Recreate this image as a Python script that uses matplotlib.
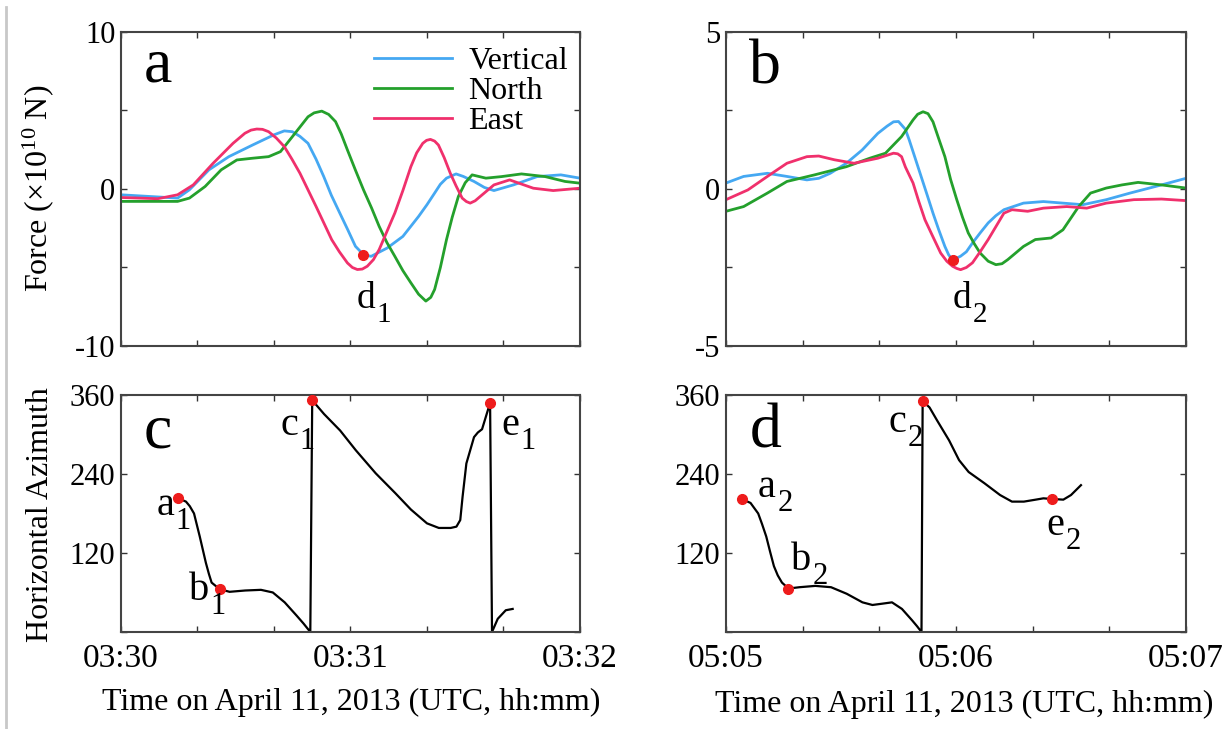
import matplotlib
matplotlib.use("Agg")
import matplotlib.pyplot as plt
from matplotlib.lines import Line2D

plt.rcParams["font.family"] = ["Liberation Serif", "DejaVu Serif"]
plt.rcParams["mathtext.default"] = "regular"

BLUE  = "#45a8f2"
GREEN = "#24a02c"
PINK  = "#f0306c"
DOT   = "#ee1c1c"

# ---- panel a : 03:30 -> 03:32 (seconds since 03:30), force x1e10 N
a_t_vert = [0, 14.8, 17.9, 23.0, 28.2, 34.4, 40.0, 42.7, 44.8, 46.8, 48.9, 51.0,
            53.0, 55.0, 57.2, 59.3, 61.3, 63.4, 65.4, 69.6, 73.7, 77.8, 80.0,
            82.0, 83.5, 85.1, 87.6, 89.5, 92.3, 95.0, 97.5, 102.6, 108.8, 115.0,
            120]
a_vert   = [-0.37, -0.58, -0.05, 1.22, 2.06, 2.80, 3.45, 3.70, 3.65, 3.35, 2.91,
            1.90, 0.80, -0.40, -1.53, -2.60, -3.65, -4.18, -4.29, -3.76, -3.02,
            -1.75, -1.00, -0.26, 0.30, 0.69, 0.96, 0.80, 0.48, 0.10, -0.10, 0.26,
            0.79, 0.90, 0.69]
a_t_north = [0, 14.8, 17.9, 22.0, 26.2, 30.3, 34.4, 38.6, 41.7, 44.8, 48.9, 50.5,
             52.5, 54.3, 56.1, 57.6, 59.2, 61.3, 63.4, 65.5, 67.5, 69.5, 71.6,
             73.7, 75.8, 77.8, 79.7, 81.0, 82.0, 83.5, 85.1, 86.6, 88.2, 90.0,
             91.8, 95.4, 99.5, 104.7, 110.9, 116.1, 120]
a_north   = [-0.79, -0.79, -0.58, 0.16, 1.22, 1.85, 1.96, 2.06, 2.38, 3.33, 4.60,
             4.85, 4.96, 4.75, 4.29, 3.50, 2.49, 1.20, -0.05, -1.20, -2.38, -3.40,
             -4.29, -5.20, -5.98, -6.70, -7.14, -6.90, -6.40, -5.00, -3.23, -1.80,
             -0.48, 0.40, 0.90, 0.69, 0.79, 0.96, 0.79, 0.48, 0.37]
a_t_east = [0, 9.6, 14.8, 18.9, 24.1, 29.3, 32.4, 34.0, 35.5, 37.0, 38.6, 40.6,
            42.7, 44.7, 46.8, 51.0, 55.1, 57.1, 59.2, 60.5, 61.8, 63.1, 64.4,
            66.0, 67.5, 71.6, 73.7, 75.8, 77.3, 78.9, 79.9, 80.9, 82.0, 83.0,
            84.5, 86.1, 87.6, 89.2, 90.3, 91.3, 92.6, 93.9, 97.5, 101.6, 107.8,
            113.0, 120]
a_east   = [-0.54, -0.62, -0.37, 0.26, 1.64, 2.91, 3.55, 3.75, 3.82, 3.80, 3.65,
            3.25, 2.70, 1.90, 1.00, -1.11, -3.23, -4.00, -4.71, -5.00, -5.13,
            -5.10, -4.92, -4.50, -3.86, -1.53, -0.10, 1.43, 2.30, 2.91, 3.10,
            3.16, 3.05, 2.80, 2.00, 1.00, 0.20, -0.58, -0.80, -0.90, -0.75, -0.48,
            0.26, 0.58, 0.05, -0.10, 0.05]

# ---- panel b : 05:05 -> 05:07
b_t_vert = [0, 4.6, 10.8, 15.9, 21.1, 24.2, 27.2, 31.4, 35.5, 39.6, 42.0, 43.7,
            45.0, 46.8, 47.8, 49.3, 50.9, 52.5, 54.0, 55.5, 57.1, 58.1, 59.1,
            60.2, 61.2, 62.7, 64.3, 66.3, 68.4, 70.4, 72.5, 77.6, 82.8, 87.9,
            93.1, 99.2, 105.4, 113.6, 120]
b_vert   = [0.19, 0.40, 0.50, 0.40, 0.29, 0.34, 0.50, 0.82, 1.24, 1.77, 2.00,
            2.14, 2.15, 1.90, 1.56, 1.00, 0.40, -0.20, -0.77, -1.30, -1.83,
            -2.10, -2.25, -2.20, -2.14, -2.00, -1.72, -1.40, -1.08, -0.85, -0.66,
            -0.45, -0.40, -0.45, -0.50, -0.34, -0.13, 0.13, 0.34]
b_t_north = [0, 4.6, 10.8, 15.9, 23.1, 31.4, 37.5, 41.6, 45.8, 48.8, 50.0, 51.4,
             52.7, 54.0, 55.5, 57.1, 58.6, 60.2, 61.7, 63.2, 64.8, 66.3, 68.4,
             70.4, 72.0, 73.5, 77.6, 80.7, 84.8, 87.9, 92.0, 95.1, 99.2, 103.3,
             107.5, 113.6, 120]
b_north   = [-0.71, -0.56, -0.13, 0.24, 0.45, 0.71, 0.98, 1.14, 1.67, 2.20, 2.38,
             2.46, 2.40, 2.14, 1.60, 1.03, 0.30, -0.34, -0.90, -1.40, -1.75,
             -2.04, -2.30, -2.41, -2.38, -2.25, -1.83, -1.61, -1.56, -1.30, -0.56,
             -0.13, 0.03, 0.13, 0.21, 0.13, 0.03]
b_t_east = [0, 5.7, 10.8, 15.9, 21.1, 24.2, 28.3, 33.4, 39.6, 43.7, 44.8, 45.8,
            46.8, 48.8, 50.3, 51.9, 53.9, 56.0, 57.6, 59.1, 60.2, 61.2, 62.7,
            64.3, 66.3, 68.4, 70.4, 72.5, 74.6, 78.7, 82.8, 88.9, 94.1, 99.2,
            106.4, 113.6, 120]
b_east   = [-0.34, -0.03, 0.40, 0.82, 1.03, 1.05, 0.93, 0.82, 0.98, 1.14, 1.12,
            1.03, 0.70, 0.19, -0.40, -0.98, -1.50, -2.04, -2.30, -2.46, -2.53,
            -2.57, -2.50, -2.35, -2.00, -1.61, -1.20, -0.77, -0.66, -0.71, -0.61,
            -0.56, -0.61, -0.45, -0.34, -0.32, -0.37]

# ---- panel c : horizontal azimuth (deg)
c_t   = [15.0, 17.0, 18.0, 19.1, 20.6, 21.4, 22.2, 23.0, 23.7, 25.8, 28.4, 32.5,
         36.6, 39.7, 42.8, 45.9, 47.7, 49.5, 50.0, 53.1, 57.3, 61.4, 66.6, 71.7,
         75.8, 80.0, 83.1, 86.2, 87.7, 88.7, 89.3, 90.3, 92.3, 93.3, 94.4, 96.5,
         97.0, 98.5, 100.6, 102.4]
c_azi = [203, 198, 191, 180, 145, 125, 105, 88, 75, 65, 61, 63, 64, 60, 45, 25,
         13, 0, 352, 331, 306, 276, 241, 211, 186, 165, 158, 158, 160, 170, 205,
         256, 296, 303, 308, 348, 0, 20, 33, 35]
c_dot_t   = [15.0, 25.8, 50.0, 96.5]
c_dot_azi = [203, 65, 352, 348]

# ---- panel d
d_t   = [4.1, 6.4, 8.4, 9.4, 10.5, 11.5, 12.5, 13.5, 14.6, 16.3, 19.2, 23.3, 27.4,
         31.5, 35.6, 38.2, 40.8, 43.3, 45.9, 48.5, 49.8, 51.0, 51.3, 53.1, 55.1,
         58.2, 60.8, 63.3, 67.4, 71.5, 74.6, 77.7, 80.8, 82.8, 85.1, 88.0, 90.0,
         92.6]
d_azi = [202, 196, 180, 164, 145, 122, 100, 86, 75, 66, 68, 70, 68, 58, 45, 41,
         43, 45, 35, 18, 9, 0, 351, 341, 321, 291, 261, 243, 226, 208, 198, 198,
         201, 203, 202, 201, 208, 223]
d_dot_t   = [4.1, 16.3, 51.3, 85.1]
d_dot_azi = [202, 66, 351, 202]

x_ticks = [0, 20, 40, 60, 80, 100, 120]
c_xlabels = ["03:30", "", "", "03:31", "", "", "03:32"]
d_xlabels = ["05:05", "", "", "05:06", "", "", "05:07"]
azi_ticks = [0, 120, 240, 360]
azi_labels = ["", "120", "240", "360"]


def style(ax, yticks, ylabels, xlabels=None):
    ax.set_xlim(0, 120)
    ax.set_xticks(x_ticks)
    ax.set_xticklabels(xlabels if xlabels else [""] * len(x_ticks))
    ax.set_yticks(yticks)
    ax.set_yticklabels(ylabels)
    ax.set_ylim(yticks[0], yticks[-1])
    ax.tick_params(direction="in", top=True, right=True, length=4, width=1,
                   color="#333333", pad=4)
    ax.tick_params(axis="y", labelsize=22)
    ax.tick_params(axis="x", labelsize=24, pad=8)
    for s in ax.spines.values():
        s.set_color("#444444")
        s.set_linewidth(1.5)


def tag(ax, x, y, letter, sub, size, subsize):
    ax.text(x, y, letter, fontsize=size, ha="right", va="baseline")
    ax.annotate(sub, (x, y), xytext=(1, -10), textcoords="offset points",
                fontsize=subsize, ha="left", va="baseline")


fig = plt.figure(figsize=(12.28, 7.29), dpi=100)
ax_a = fig.add_axes([0.0985, 0.5254, 0.3738, 0.4307])
ax_b = fig.add_axes([0.5912, 0.5254, 0.3746, 0.4307])
ax_c = fig.add_axes([0.0985, 0.1331, 0.3738, 0.3251])
ax_d = fig.add_axes([0.5912, 0.1331, 0.3746, 0.3251])

# a
ax_a.plot(a_t_vert, a_vert, color=BLUE, lw=2, label="Vertical")
ax_a.plot(a_t_north, a_north, color=GREEN, lw=2, label="North")
ax_a.plot(a_t_east, a_east, color=PINK, lw=2, label="East")
ax_a.plot(a_t_vert[17], a_vert[17], "o", color=DOT, ms=7)
style(ax_a, [-10, -5, 0, 5, 10], ["-10", "", "0", "", "10"])
ax_a.legend(loc="upper left", bbox_to_anchor=(0.52, 1.0), frameon=False,
            fontsize=23, handlelength=2.45, handletextpad=0.5, labelspacing=0.02,
            borderaxespad=0.05)
ax_a.text(0.08, 0.89, "a", transform=ax_a.transAxes, fontsize=46,
          ha="center", va="center")
tag(ax_a, 66.4, -7.6, "d", "1", 27, 21)

# b
ax_b.plot(b_t_vert, b_vert, color=BLUE, lw=2)
ax_b.plot(b_t_north, b_north, color=GREEN, lw=2)
ax_b.plot(b_t_east, b_east, color=PINK, lw=2)
ax_b.plot(b_t_vert[22], b_vert[22], "o", color=DOT, ms=7)
style(ax_b, [-5, -2.5, 0, 2.5, 5], ["-5", "", "0", "", "5"])
ax_b.text(0.085, 0.885, "b", transform=ax_b.transAxes, fontsize=46,
          ha="center", va="center")
tag(ax_b, 63.9, -3.8, "d", "2", 27, 21)

# c
ax_c.plot(c_t, c_azi, color="black", lw=1.6)
ax_c.plot(c_dot_t, c_dot_azi, "o", color=DOT, ms=7, zorder=3)
style(ax_c, azi_ticks, azi_labels, c_xlabels)
ax_c.text(0.08, 0.84, "c", transform=ax_c.transAxes, fontsize=46,
          ha="center", va="center")
tag(ax_c, 13.9, 178, "a", "1", 29, 22)
tag(ax_c, 23.0, 49, "b", "1", 29, 22)
tag(ax_c, 46.3, 299, "c", "1", 29, 22)
tag(ax_c, 104.0, 299, "e", "1", 29, 22)

# d
ax_d.plot(d_t, d_azi, color="black", lw=1.6)
ax_d.plot(d_dot_t, d_dot_azi, "o", color=DOT, ms=7, zorder=3)
style(ax_d, azi_ticks, azi_labels, d_xlabels)
ax_d.text(0.087, 0.84, "d", transform=ax_d.transAxes, fontsize=46,
          ha="center", va="center")
tag(ax_d, 13.0, 205, "a", "2", 29, 22)
tag(ax_d, 22.2, 94, "b", "2", 29, 22)
tag(ax_d, 47.0, 304, "c", "2", 29, 22)
tag(ax_d, 88.2, 147, "e", "2", 29, 22)

fig.text(0.031, 0.741, "Force (\u00d710$^{10}$ N)", rotation=90, fontsize=23,
         ha="center", va="center")
fig.text(0.033, 0.294, "Horizontal Azimuth", rotation=90, fontsize=23,
         ha="center", va="center")
fig.text(0.286, 0.036, "Time on April 11, 2013 (UTC, hh:mm)", fontsize=23,
         ha="center", va="center")
fig.text(0.785, 0.033, "Time on April 11, 2013 (UTC, hh:mm)", fontsize=23,
         ha="center", va="center")

# thin grey border on the left edge
fig.add_artist(Line2D([0.005, 0.005], [0.0, 0.99], color="#c8c8c8", lw=2))

fig.savefig("out.png", dpi=100)
